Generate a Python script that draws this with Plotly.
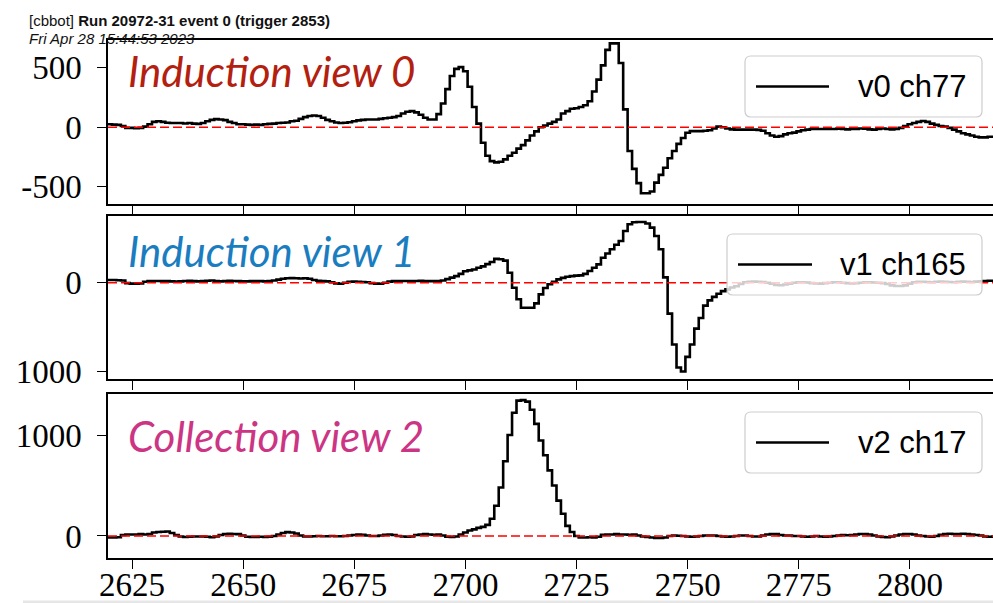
import plotly.graph_objects as go

# ---------------- data ----------------
samples = list(range(2619, 2820))

v0_ch77 = [25,
    25, 22, 20, 10, -5, -5, -8, -5, 5, 25,
    45, 50, 45, 38, 35, 35, 35, 32, 35, 30,
    28, 35, 50, 62, 68, 65, 60, 45, 35, 25,
    25, 22, 20, 22, 20, 25, 28, 30, 35, 38,
    40, 50, 55, 70, 85, 95, 98, 95, 80, 62,
    50, 40, 35, 38, 42, 50, 58, 62, 65, 65,
    65, 70, 75, 80, 85, 95, 115, 130, 135, 125,
    105, 80, 65, 65, 110, 200, 320, 430, 490, 505,
    470, 340, 170, 30, -130, -240, -285, -295, -290, -270,
    -240, -215, -180, -150, -110, -70, -35, 0, 15, 30,
    45, 65, 115, 135, 155, 160, 170, 185, 218, 300,
    400, 520, 650, 705, 705, 540, 150, -200, -350, -470,
    -555, -555, -540, -465, -400, -340, -260, -200, -140, -90,
    -46, -33, -33, -33, -30, -25, -10, 5, 0, -10,
    -18, -20, -20, -20, -20, -20, -22, -30, -50, -70,
    -80, -75, -60, -50, -45, -35, -25, -20, -15, -15,
    -15, -15, -15, -15, -12, -15, -18, -15, -15, -10,
    -12, -18, -20, -15, -10, -15, -18, -15, -5, 10,
    25, 35, 45, 52, 45, 30, 20, 10, 5, -5,
    -20, -35, -50, -60, -70, -80, -85, -85, -80, -80]

v1_ch165 = [30,
    30, 30, 28, 25, -5, -10, -10, -8, 10, 18,
    20, 20, 18, 20, 15, 12, 15, 20, 22, 18,
    15, 20, 22, 25, 20, 15, 18, 22, 20, 18,
    15, 15, 18, 20, 18, 15, 20, 25, 35, 45,
    50, 52, 50, 48, 50, 45, 30, 22, 20, 15,
    5, -8, -12, 0, 10, 12, 10, 8, 5, -5,
    -10, -12, 0, 12, 18, 20, 20, 20, 18, 20,
    22, 20, 18, 20, 18, 25, 40, 57, 75, 100,
    130, 140, 150, 170, 185, 210, 235, 270, 265, 250,
    113, -57, -188, -283, -283, -283, -234, -132, -60, -18,
    10, 38, 55, 68, 75, 80, 83, 100, 132, 170,
    208, 283, 330, 378, 430, 472, 585, 661, 685, 687,
    687, 670, 623, 529, 378, 60, -350, -700, -960, -1005,
    -840, -700, -520, -400, -260, -200, -160, -125, -95, -75,
    -55, -40, -15, 5, 10, 12, 10, 8, 0, -10,
    -25, -28, -20, -10, 0, 5, 5, 2, -5, -8,
    -10, -5, 0, 5, 5, 0, -5, -8, -5, 0,
    5, 5, 2, 0, -5, -15, -30, -38, -38, -30,
    -10, 5, 10, 10, 8, 5, 10, 12, 10, 8,
    5, 10, 12, 10, 8, 12, 15, 20, 22, 22]

v2_ch17 = [-15,
    -15, -15, -12, 10, 15, 15, 15, 18, 15, 20,
    35, 40, 42, 45, 30, 10, -5, -10, -8, -5,
    -5, -5, -8, -12, -5, 10, 20, 22, 20, 18,
    5, -8, -10, -10, -8, -10, -8, 0, 15, 30,
    38, 35, 25, 5, -5, -5, -3, 0, -2, -3,
    0, -2, -3, 0, 5, 10, 15, 12, 5, 0,
    0, 5, 12, 15, 10, 0, -5, -8, -5, 10,
    15, 18, 15, 12, 15, 5, -8, -10, -5, 15,
    35, 55, 65, 80, 90, 110, 170, 300, 480, 740,
    1000, 1220, 1340, 1345, 1330, 1250, 1110, 945, 800, 650,
    500, 350, 220, 100, 40, 0, -15, -15, -12, -15,
    -8, 12, 15, 15, 18, 15, 15, 12, 15, 5,
    -5, -10, -15, -20, -20, -15, 0, 5, 2, 0,
    -5, -8, -5, 0, 5, 5, 5, 0, -5, -8,
    -5, 0, 5, 5, 0, -5, -5, 5, 15, 20,
    18, 10, 5, 5, 0, 0, -5, -8, -5, 0,
    -5, -8, -5, 0, 5, 10, 8, 10, 15, 20,
    20, 15, 5, -5, -10, -12, -5, 5, 15, 20,
    20, 15, 5, 0, -5, -8, 0, 12, 20, 22,
    20, 20, 22, 20, 15, 10, 5, -5, -8, -5]

series_names = ["v0 ch77", "v1 ch165", "v2 ch17"]
view_titles = ["Induction view 0", "Induction view 1", "Collection view 2"]
view_colors = ["#b3200f", "#1a7dbf", "#cc3584"]

x_ticks = [2625, 2650, 2675, 2700, 2725, 2750, 2775, 2800]
y_ticks = [[-500, 0, 500], [-1000, 0], [0, 1000]]
y_ticktext = [["-500", "0", "500"], ["1000", "0"], ["0", "1000"]]

header_line1 = "[cbbot] <b>Run 20972-31 event 0 (trigger 2853)</b>"
header_line2 = "<i>Fri Apr 28 15:44:53 2023</i>"

assert len(v0_ch77) == len(samples) == len(v1_ch165) == len(v2_ch17)

# ---------------- layout helpers ----------------
W, H = 993, 603
ML = 108  # left margin in pixels; paper x spans [ML, W]
def px(x):
    return (x - ML) / (W - ML)
def py(y):
    return 1 - y / H

x_range = [2619.6, 2818.7]
y_ranges = [[-645, 733], [-1090, 755], [-218, 1406]]
panel_px = [(40, 204), (216, 379), (394, 558)]
domains = [[py(b), py(t)] for (t, b) in panel_px]

fig = go.Figure()
series = [v0_ch77, v1_ch165, v2_ch17]
for i, vals in enumerate(series):
    sfx = "" if i == 0 else str(i + 1)
    fig.add_trace(go.Scatter(
        x=samples, y=vals, mode="lines", name=series_names[i],
        line=dict(color="black", width=2.6, shape="hvh"),
        xaxis="x" + sfx, yaxis="y" + sfx, showlegend=False, hoverinfo="skip"))

tick_font = dict(family="Liberation Serif", size=33, color="black")
layout = dict(
    width=W, height=H, template="none",
    paper_bgcolor="white", plot_bgcolor="white",
    margin=dict(l=ML, r=0, t=0, b=0, pad=0),
    showlegend=False,
)
for i in range(3):
    sfx = "" if i == 0 else str(i + 1)
    layout["xaxis" + sfx] = dict(
        domain=[0, 1], anchor="y" + sfx, range=x_range,
        tickvals=x_ticks, ticks="outside", ticklen=9, tickwidth=1.3, tickcolor="black",
        showticklabels=(i == 2), tickfont=tick_font, ticklabelstandoff=-12,
        showline=True, linewidth=1.5, linecolor="black", mirror=True,
        showgrid=False, zeroline=False, automargin=False,
        matches=None if i == 0 else "x")
    layout["yaxis" + sfx] = dict(
        domain=domains[i], anchor="x" + sfx, range=y_ranges[i],
        tickvals=y_ticks[i], ticktext=y_ticktext[i],
        ticks="outside", ticklen=9, tickwidth=1.3, tickcolor="black",
        tickfont=tick_font, ticklabelstandoff=9,
        showline=True, linewidth=1.5, linecolor="black", mirror=False,
        showgrid=False, zeroline=False, automargin=False)
fig.update_layout(**layout)

shapes = []
# dashed zero lines
for i in range(3):
    sfx = "" if i == 0 else str(i + 1)
    shapes.append(dict(type="line", xref="x" + sfx + " domain", yref="y" + sfx,
                       x0=0, x1=1, y0=0, y1=0, layer="above",
                       line=dict(color="#ff0000", width=1.6, dash="9px,4px")))

def rounded_box(x0, y0, x1, y1, r):
    p = (f"M {px(x0+r)},{py(y0)} L {px(x1-r)},{py(y0)} Q {px(x1)},{py(y0)} {px(x1)},{py(y0+r)} "
         f"L {px(x1)},{py(y1-r)} Q {px(x1)},{py(y1)} {px(x1-r)},{py(y1)} "
         f"L {px(x0+r)},{py(y1)} Q {px(x0)},{py(y1)} {px(x0)},{py(y1-r)} "
         f"L {px(x0)},{py(y0+r)} Q {px(x0)},{py(y0)} {px(x0+r)},{py(y0)} Z")
    return p

legend_boxes = [(745, 56, 982, 117, 756, 829, 856),
                (727, 234, 982, 295, 738, 812, 838),
                (745, 412, 982, 473, 756, 829, 856)]
annotations = []
for i, (bx0, by0, bx1, by1, lx0, lx1, tx) in enumerate(legend_boxes):
    shapes.append(dict(type="path", xref="paper", yref="paper",
                       path=rounded_box(bx0, by0, bx1, by1, 6), layer="above",
                       fillcolor="rgba(255,255,255,0.8)",
                       line=dict(color="rgba(200,200,200,0.9)", width=1.2)))
    ym = (by0 + by1) / 2
    shapes.append(dict(type="line", xref="paper", yref="paper", layer="above",
                       x0=px(lx0), x1=px(lx1), y0=py(ym), y1=py(ym),
                       line=dict(color="black", width=2.6)))
    annotations.append(dict(xref="paper", yref="paper", x=px(tx), y=py(ym),
                            xanchor="left", yanchor="middle", showarrow=False,
                            text=series_names[i],
                            font=dict(family="Liberation Sans", size=31, color="black")))

# bottom grey strip (page edge)
shapes.append(dict(type="rect", xref="paper", yref="paper", x0=px(23), x1=1,
                   y0=0, y1=py(600.5), fillcolor="#e6e6e6", line=dict(width=0), layer="below"))

title_centers = [71, 251, 436]
for i in range(3):
    annotations.append(dict(xref="paper", yref="paper", x=px(126), y=py(title_centers[i]),
                            xanchor="left", yanchor="middle", showarrow=False,
                            text="<i>" + view_titles[i] + "</i>",
                            font=dict(family="Lato", size=42, color=view_colors[i])))

annotations.append(dict(xref="paper", yref="paper", x=px(27), y=py(20.5),
                        xanchor="left", yanchor="middle", showarrow=False,
                        text=header_line1,
                        font=dict(family="Liberation Sans", size=15, color="#111111")))
annotations.append(dict(xref="paper", yref="paper", x=px(27), y=py(38.5),
                        xanchor="left", yanchor="middle", showarrow=False,
                        text=header_line2,
                        font=dict(family="Liberation Sans", size=15, color="#111111")))

fig.update_layout(shapes=shapes, annotations=annotations)
fig.write_html("out.html", config={"displayModeBar": False},
               post_script="document.body.style.margin='0';")
